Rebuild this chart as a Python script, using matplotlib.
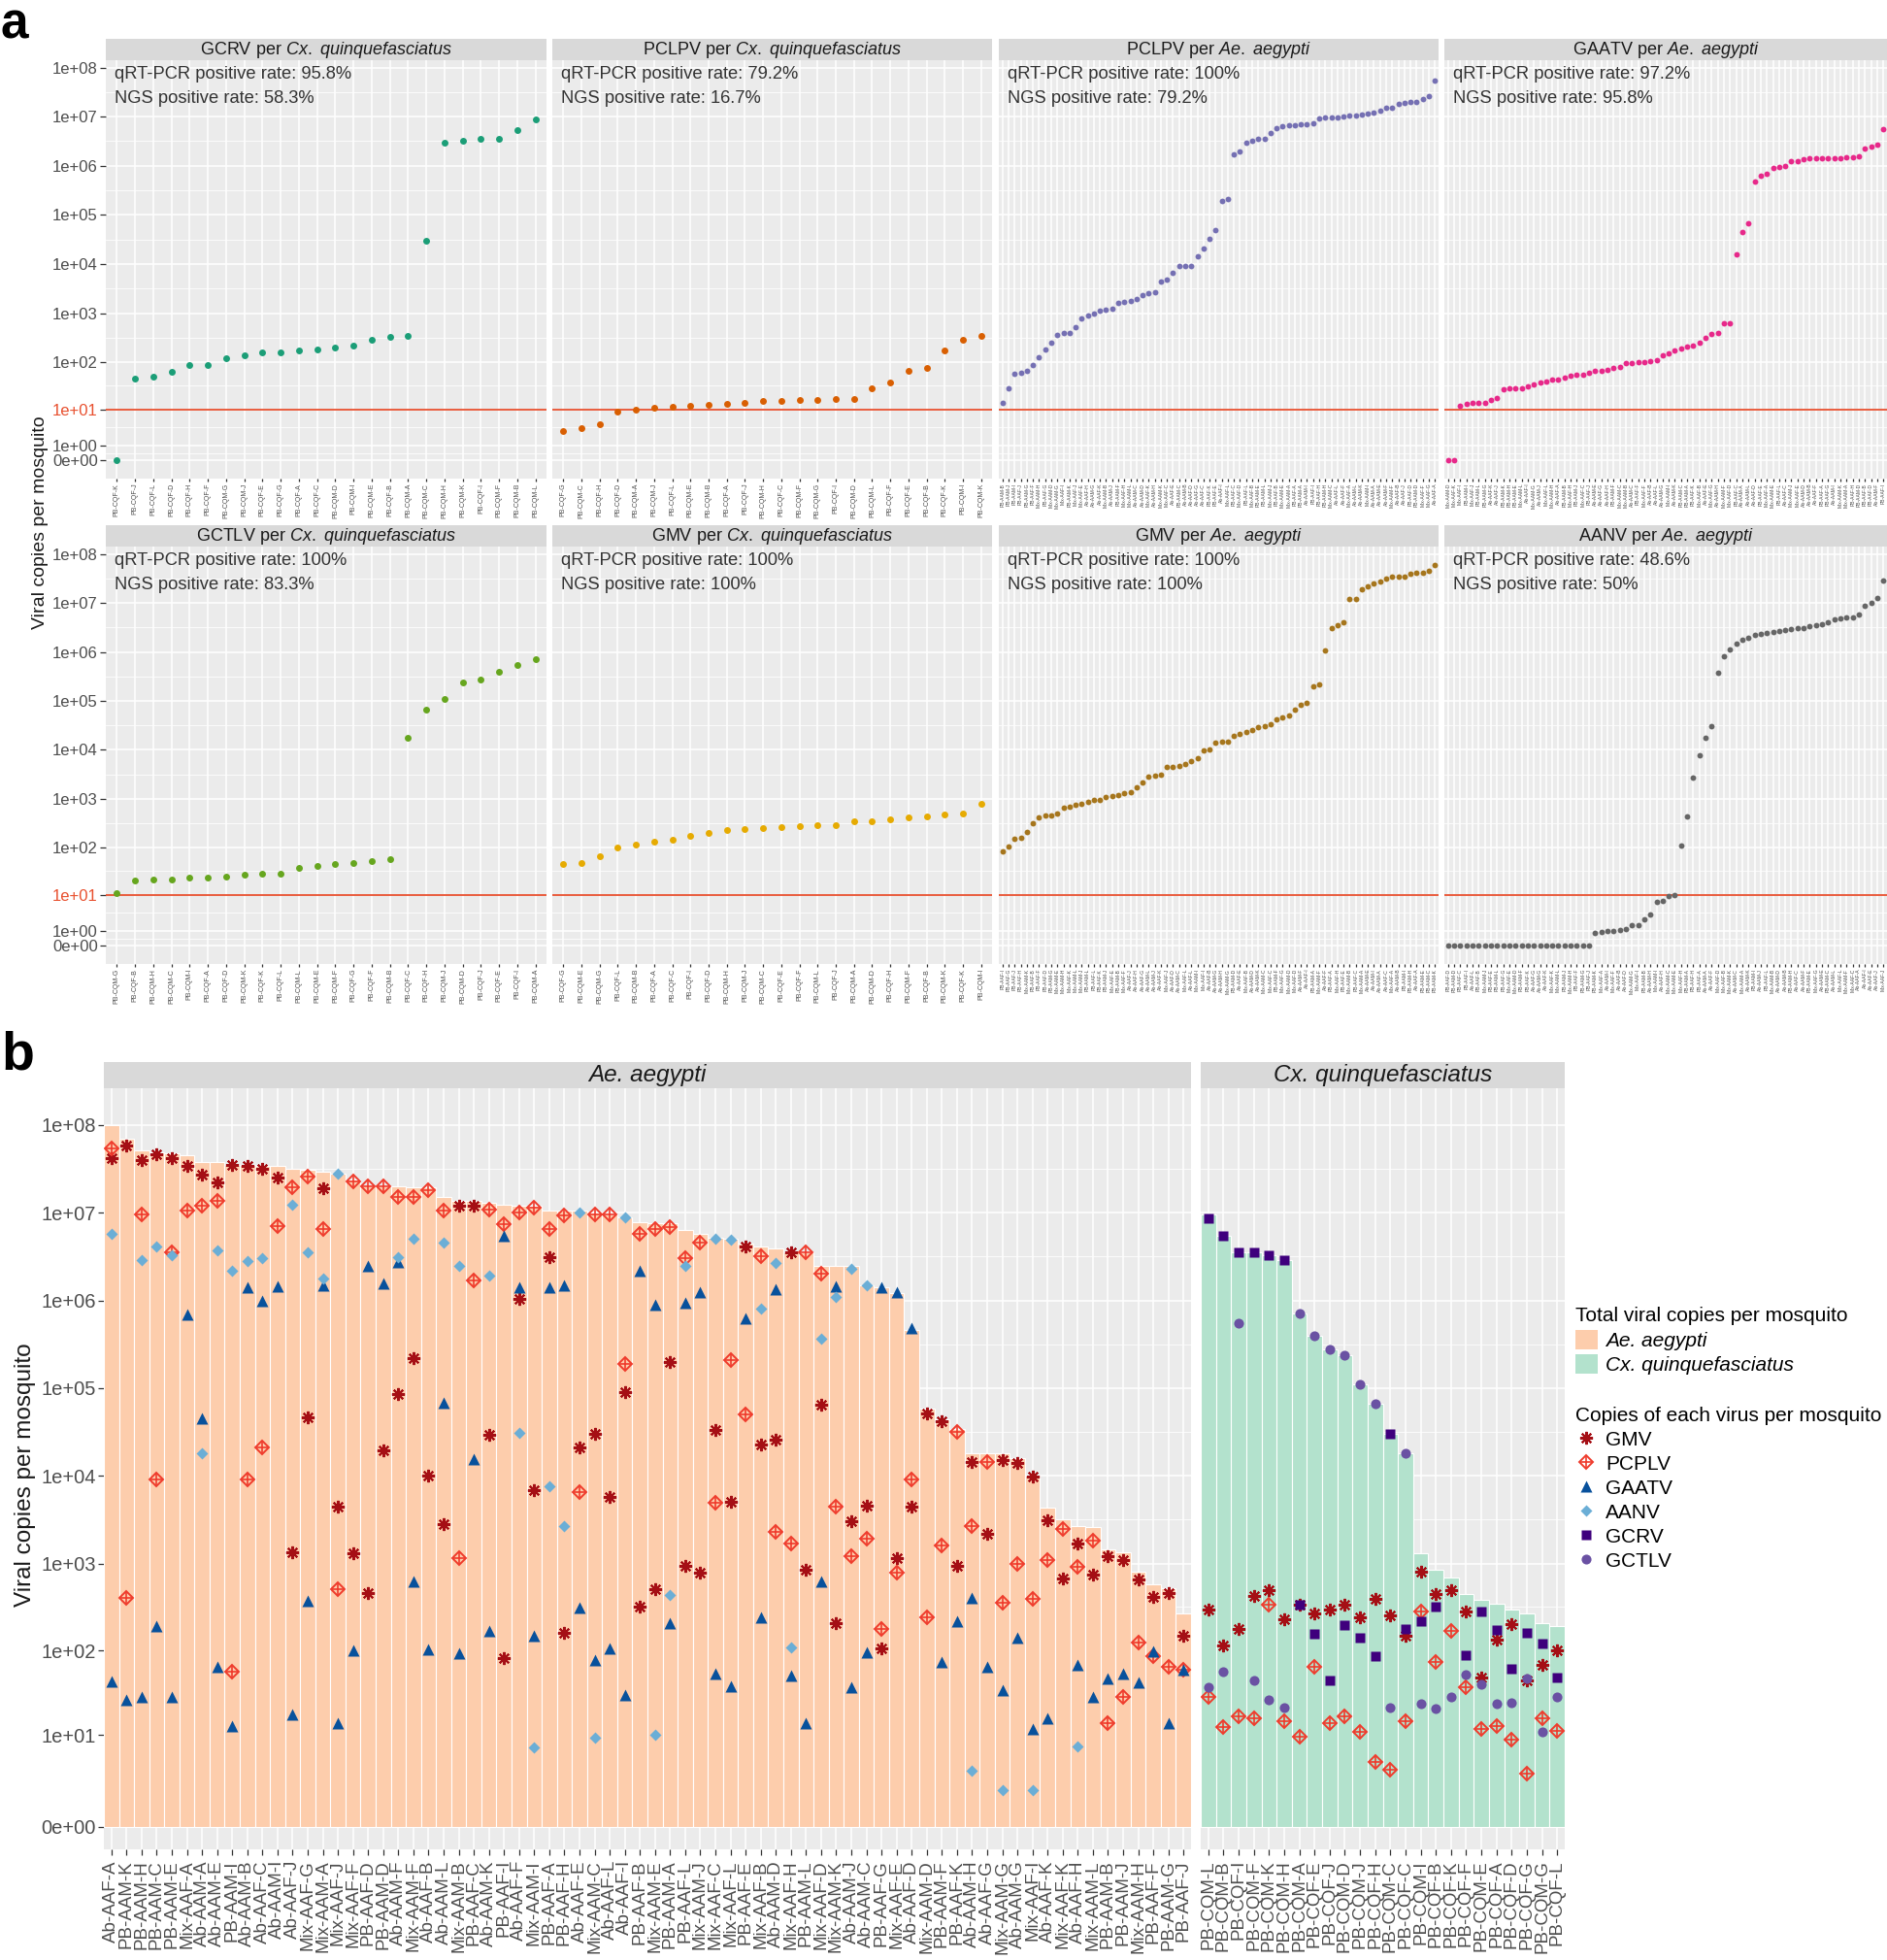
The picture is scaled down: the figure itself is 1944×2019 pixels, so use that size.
import numpy as np
import matplotlib
matplotlib.use("Agg")
import matplotlib.pyplot as plt
from matplotlib.lines import Line2D
from matplotlib.patches import Patch

plt.rcParams["font.family"] = ["Liberation Sans", "DejaVu Sans"]
plt.rcParams["mathtext.fontset"] = "custom"
plt.rcParams["mathtext.rm"] = "Liberation Sans"
plt.rcParams["mathtext.it"] = "Liberation Sans:italic"

nan = np.nan

# ---------------- data (panel b order, copies per mosquito) ----------------
ae_samples = [
    "Ab-AAF-A", "PB-AAM-K", "PB-AAM-H", "PB-AAM-C", "PB-AAM-E", "Mix-AAF-A", "Ab-AAM-A", "Ab-AAM-E",
    "PB-AAM-I", "Ab-AAM-B", "Ab-AAF-C", "Ab-AAM-I", "Ab-AAF-J", "Mix-AAF-G", "Mix-AAM-A", "Mix-AAF-J",
    "Mix-AAF-F", "PB-AAF-D", "PB-AAM-D", "Ab-AAM-F", "Mix-AAM-F", "Ab-AAF-B", "Ab-AAM-L", "Mix-AAM-B",
    "PB-AAF-C", "Ab-AAM-K", "PB-AAF-I", "Ab-AAF-F", "Mix-AAM-I", "PB-AAF-A", "PB-AAF-H", "Ab-AAF-E",
    "Mix-AAM-C", "Ab-AAF-L", "Ab-AAF-I", "PB-AAF-B", "Mix-AAM-E", "PB-AAM-A", "PB-AAF-L", "Mix-AAM-J",
    "Mix-AAF-C", "Mix-AAF-L", "PB-AAF-E", "Mix-AAF-B", "Ab-AAM-D", "Mix-AAF-H", "PB-AAM-L", "Mix-AAF-D",
    "Mix-AAM-K", "Ab-AAM-J", "Ab-AAM-C", "PB-AAF-G", "Mix-AAF-E", "Ab-AAF-D", "Mix-AAM-D", "PB-AAM-F",
    "PB-AAF-K", "Ab-AAM-H", "Ab-AAF-G", "Mix-AAM-G", "Ab-AAM-G", "Mix-AAF-I", "Ab-AAF-K", "Mix-AAF-K",
    "Ab-AAF-H", "Mix-AAM-L", "PB-AAM-B", "PB-AAM-J", "Mix-AAM-H", "PB-AAF-F", "PB-AAM-G", "PB-AAF-J",
]
cx_samples = [
    "PB-CQM-L", "PB-CQM-B", "PB-CQF-I", "PB-CQM-F", "PB-CQM-K", "PB-CQM-H", "PB-CQM-A", "PB-CQF-E",
    "PB-CQF-J", "PB-CQM-D", "PB-CQM-J", "PB-CQF-H", "PB-CQM-C", "PB-CQF-C", "PB-CQM-I", "PB-CQF-B",
    "PB-CQF-K", "PB-CQF-F", "PB-CQM-E", "PB-CQF-A", "PB-CQF-D", "PB-CQF-G", "PB-CQM-G", "PB-CQF-L",
]

ae_total = [
    1.0e8, 6.9e7, 5.1e7, 4.9e7, 4.8e7, 4.5e7, 3.8e7, 3.8e7, 3.5e7, 3.5e7, 3.4e7, 3.4e7,
    3.2e7, 3.1e7, 2.9e7, 2.8e7, 2.4e7, 2.0e7, 2.0e7, 2.0e7, 1.95e7, 1.95e7, 1.5e7, 1.35e7,
    1.35e7, 1.3e7, 1.25e7, 1.2e7, 1.2e7, 1.07e7, 1.05e7, 1.05e7, 1.0e7, 9.5e6, 8.9e6, 7.9e6,
    7.6e6, 7.6e6, 6.3e6, 5.8e6, 5.2e6, 5.0e6, 4.5e6, 4.1e6, 3.9e6, 3.5e6, 3.5e6, 2.5e6,
    2.5e6, 2.45e6, 1.5e6, 1.4e6, 1.2e6, 4.6e5, 5.8e4, 4.4e4, 3.4e4, 1.8e4, 1.8e4, 1.8e4,
    1.6e4, 1.0e4, 4.3e3, 3.2e3, 2.7e3, 2.6e3, 1.45e3, 1.35e3, 810, 575, 525, 270,
]
ae_gmv = [
    4.2e7, 5.9e7, 4.0e7, 4.6e7, 4.2e7, 3.4e7, 2.7e7, 2.2e7, 3.5e7, 3.4e7, 3.2e7, 2.5e7,
    1.35e3, 4.7e4, 1.9e7, 4.4e3, 1.3e3, 460, 1.95e4, 8.5e4, 2.2e5, 1.0e4, 2.8e3, 1.2e7,
    1.2e7, 2.9e4, 83, 1.05e6, 6.8e3, 3.1e6, 160, 2.1e4, 3.0e4, 5.8e3, 9.1e4, 320,
    510, 2.0e5, 950, 790, 3.3e4, 5.1e3, 4.1e6, 2.3e4, 2.6e4, 3.5e6, 850, 6.5e4,
    210, 3.0e3, 4.6e3, 107, 1.15e3, 4.4e3, 5.1e4, 4.2e4, 950, 1.45e4, 2.2e3, 1.5e4,
    1.4e4, 9.8e3, 3.1e3, 680, 1.7e3, 740, 1.2e3, 1.1e3, 650, 410, 460, 150,
]
ae_pcplv = [
    5.4e7, 400, 9.5e6, 9.1e3, 3.5e6, 1.07e7, 1.2e7, 1.35e7, 57, 9.1e3, 2.1e4, 7.1e6,
    1.95e7, 2.6e7, 6.6e6, 510, 2.3e7, 2.0e7, 2.0e7, 1.5e7, 1.5e7, 1.8e7, 1.07e7, 1.15e3,
    1.7e6, 1.1e7, 7.4e6, 1.0e7, 1.15e7, 6.6e6, 9.3e6, 6.6e3, 9.5e6, 9.5e6, 1.9e5, 5.8e6,
    6.5e6, 6.9e6, 3.0e6, 4.6e6, 4.9e3, 2.1e5, 5.0e4, 3.2e6, 2.3e3, 1.7e3, 3.5e6, 2.0e6,
    4.4e3, 1.2e3, 1.9e3, 180, 790, 9.1e3, 245, 1.6e3, 3.2e4, 2.7e3, 1.45e4, 355,
    980, 390, 1.1e3, 2.5e3, 910, 1.8e3, 14, 29, 125, 86, 65, 61,
]
ae_gaatv = [
    44, 27, 29, 190, 29, 6.9e5, 4.5e4, 65, 13, 1.4e6, 1.0e6, 1.45e6,
    18, 370, 1.5e6, 14, 100, 2.5e6, 1.55e6, 2.75e6, 620, 105, 6.8e4, 93,
    1.55e4, 170, 5.5e6, 1.4e6, 150, 1.4e6, 1.5e6, 310, 79, 107, 31, 2.2e6,
    8.9e5, 210, 9.5e5, 1.25e6, 55, 39, 6.3e5, 245, 1.35e6, 52, 14, 630,
    1.45e6, 38, 95, 1.4e6, 1.25e6, 4.8e5, nan, 74, 220, 400, 65, 35,
    140, 12, 16, nan, 68, 29, 48, 54, 43, 98, 14, 61,
]
ae_aanv = [
    5.8e6, nan, 2.9e6, 4.1e6, 3.3e6, nan, 1.8e4, 3.7e6, 2.2e6, 2.8e6, 3.0e6, nan,
    1.25e7, 3.5e6, 1.8e6, 2.8e7, nan, nan, nan, 3.1e6, 5.0e6, nan, 4.6e6, 2.5e6,
    nan, 1.9e6, nan, 3.1e4, 6.9, 7.6e3, 2.7e3, 1.0e7, 9.2, nan, 8.9e6, nan,
    10, 440, 2.45e6, nan, 5.0e6, 4.9e6, nan, 8.1e5, 2.7e6, 110, nan, 3.7e5,
    1.1e6, 2.3e6, 1.5e6, nan, nan, nan, nan, nan, nan, 3.3, nan, 1.6,
    nan, 1.6, nan, nan, 7.1, nan, nan, nan, nan, nan, nan, nan,
]
# AANV values near 1 copy that appear only in the panel a ranking
aanv_a_only_samples = ["PB-AAM-K", "Mix-AAF-A", "Ab-AAM-I", "Mix-AAF-F", "Ab-AAF-B", "Ab-AAF-D", "PB-AAM-B"]
aanv_a_only_values = [0.8, 0.9, 1.0, 1.0, 1.1, 1.2, 2.5]

cx_total = [
    9.5e6, 5.5e6, 3.5e6, 3.5e6, 3.3e6, 2.9e6, 7.1e5, 4.0e5, 2.75e5, 2.4e5, 1.1e5, 6.6e4,
    3.0e4, 1.8e4, 1.3e3, 850, 690, 450, 380, 350, 295, 265, 210, 190,
]
cx_gmv = [
    295, 114, 178, 425, 490, 229, 340, 270, 295, 340, 240, 390,
    257, 148, 810, 445, 500, 280, 49, 134, 200, 45, 68, 101,
]
cx_pcplv = [
    29, 12.5, 17, 16, 340, 15, 9.7, 65, 14, 17, 11, 4.4,
    3.5, 15, 280, 75, 170, 38, 12, 13, 8.8, 3.0, 16, 11.3,
]
cx_gcrv = [
    8.7e6, 5.4e6, 3.5e6, 3.5e6, 3.3e6, 2.9e6, 340, 155, 45, 195, 140, 86,
    3.0e4, 180, 220, 320, nan, 88, 280, 175, 62, 160, 122, 49,
]
cx_gctlv = [
    38, 58, 5.5e5, 45, 27, 22, 7.1e5, 4.0e5, 2.75e5, 2.4e5, 1.1e5, 6.6e4,
    22, 1.8e4, 24, 21, 29, 53, 41, 24, 25, 48, 11, 29,
]

# panel a annotations (qRT-PCR rate, NGS rate)
rates = {
    "GCRV_cx": ("95.8%", "58.3%"), "PCLPV_cx": ("79.2%", "16.7%"),
    "PCLPV_ae": ("100%", "79.2%"), "GAATV_ae": ("97.2%", "95.8%"),
    "GCTLV_cx": ("100%", "83.3%"), "GMV_cx": ("100%", "100%"),
    "GMV_ae": ("100%", "100%"), "AANV_ae": ("48.6%", "50%"),
}

# ---------------- style ----------------
W, H = 1944, 2019
BG = "#EBEBEB"
STRIP = "#D9D9D9"
TXT = "#1A1A1A"
TICKC = "#4D4D4D"
RED_LINE = "#E8502F"
AE_FILL, CX_FILL = "#FDCDAC", "#B3E2CD"
C_GMV, C_PCPLV, C_GAATV = "#A50F15", "#EF3B2C", "#08519C"
C_AANV, C_GCRV, C_GCTLV = "#6BAED6", "#3F007D", "#6A51A3"
ASTER = (8, 2, 0)

fig = plt.figure(figsize=(W / 100, H / 100), dpi=100)


def axes_px(x0, y0, x1, y1):
    return fig.add_axes([x0 / W, 1 - y1 / H, (x1 - x0) / W, (y1 - y0) / H])


def fwd(v):
    v = np.asarray(v, dtype=float)
    return np.log10(np.clip(v + 1.0, 1e-12, None))


def inv(p):
    return 10.0 ** np.asarray(p, dtype=float) - 1.0


def style_axes(ax, majors, labels, plim, show_y, n, xpad):
    ax.set_facecolor(BG)
    for s in ax.spines.values():
        s.set_visible(False)
    ax.set_yscale("function", functions=(fwd, inv))
    ax.set_ylim(inv(plim[0]), inv(plim[1]))
    majors = np.asarray(majors, dtype=float)
    pm = fwd(majors)
    ax.set_yticks(majors)
    ax.set_yticklabels(labels)
    ax.set_yticks(inv((pm[:-1] + pm[1:]) / 2), minor=True)
    ax.set_xlim(-xpad, n - 1 + xpad)
    ax.set_xticks(np.arange(n))
    ax.xaxis.set_minor_locator(matplotlib.ticker.NullLocator())
    ax.set_axisbelow(True)
    ax.grid(True, which="major", color="white", lw=1.1)
    ax.grid(True, which="minor", axis="y", color="white", lw=0.55)
    ax.tick_params(which="major", length=4, width=0.9, color="#333333", labelcolor=TICKC, pad=2)
    ax.tick_params(which="minor", length=0)
    if not show_y:
        ax.tick_params(axis="y", left=False, labelleft=False)


def strip_px(x0, y0, x1, y1, label, fs, italic=False):
    sa = axes_px(x0, y0, x1, y1)
    sa.set_facecolor(STRIP)
    sa.set_xticks([])
    sa.set_yticks([])
    for s in sa.spines.values():
        s.set_visible(False)
    sa.text(0.5, 0.5, label, ha="center", va="center", fontsize=fs, color=TXT,
            style="italic" if italic else "normal", transform=sa.transAxes)


# ---------------- panel a ----------------
ae_aanv_a = np.array(ae_aanv, dtype=float)
for s, val in zip(aanv_a_only_samples, aanv_a_only_values):
    ae_aanv_a[ae_samples.index(s)] = val

fac_x = [(109, 563), (569, 1022), (1029, 1482), (1488, 1944)]
rows_y = [(40, 62, 493), (541, 563, 993)]
facets = [
    ("GCRV", "Cx", cx_gcrv, cx_samples, "#1B9E77", "GCRV_cx"),
    ("PCLPV", "Cx", cx_pcplv, cx_samples, "#D95F02", "PCLPV_cx"),
    ("PCLPV", "Ae", ae_pcplv, ae_samples, "#7570B3", "PCLPV_ae"),
    ("GAATV", "Ae", ae_gaatv, ae_samples, "#E7298A", "GAATV_ae"),
    ("GCTLV", "Cx", cx_gctlv, cx_samples, "#66A61E", "GCTLV_cx"),
    ("GMV", "Cx", cx_gmv, cx_samples, "#E6AB02", "GMV_cx"),
    ("GMV", "Ae", ae_gmv, ae_samples, "#A6761D", "GMV_ae"),
    ("AANV", "Ae", ae_aanv_a, ae_samples, "#666666", "AANV_ae"),
]
sp_math = {"Cx": r"$\mathit{Cx.\ quinquefasciatus}$", "Ae": r"$\mathit{Ae.\ aegypti}$"}
a_majors = [0, 1, 1e1, 1e2, 1e3, 1e4, 1e5, 1e6, 1e7, 1e8]
a_labels = ["0e+00", "1e+00", "1e+01", "1e+02", "1e+03", "1e+04", "1e+05", "1e+06", "1e+07", "1e+08"]

for k, (virus, sp, vals, names, color, key) in enumerate(facets):
    r, c = divmod(k, 4)
    sy0, py0, py1 = rows_y[r]
    x0, x1 = fac_x[c]
    strip_px(x0, sy0, x1, py0, f"{virus} per " + sp_math[sp], 13)
    ax = axes_px(x0, py0, x1, py1)
    v = np.nan_to_num(np.asarray(vals, dtype=float), nan=0.0)
    order = np.argsort(v, kind="stable")
    n = len(v)
    style_axes(ax, a_majors, a_labels, (-0.37, 8.15), c == 0, n, 0.6)
    ax.set_xticklabels([names[i] for i in order], rotation=90,
                       fontsize=5 if n < 30 else 3.6, color=TICKC)
    ax.tick_params(axis="x", length=2.5, pad=1)
    if c == 0:
        ax.get_yticklabels()[2].set_color(RED_LINE)
        for t in ax.get_yticklabels():
            t.set_fontsize(12)
    ax.axhline(10, color=RED_LINE, lw=1.3, zorder=1.5)
    ax.plot(np.arange(n), v[order], "o", ms=5.0 if n < 30 else 4.2, color=color, mec="none", zorder=3)
    q, g = rates[key]
    ax.text(0.02, 0.985, f"qRT-PCR positive rate: {q}\nNGS positive rate: {g}",
            transform=ax.transAxes, ha="left", va="top", fontsize=13.2, color="#333333",
            linespacing=1.6)

fig.text(41 / W, 1 - 538 / H, "Viral copies per mosquito", rotation=90, ha="center", va="center",
         fontsize=14, color=TXT)
fig.text(1 / W, 1 - 39 / H, "a", fontsize=37, fontweight="bold", ha="left", va="baseline")

# ---------------- panel b ----------------
b_majors = [0, 1e1, 1e2, 1e3, 1e4, 1e5, 1e6, 1e7, 1e8]
b_labels = ["0e+00", "1e+01", "1e+02", "1e+03", "1e+04", "1e+05", "1e+06", "1e+07", "1e+08"]


def draw_points(ax, x, vals, kind):
    vals = np.asarray(vals, dtype=float)
    if kind == "GMV":
        ax.plot(x, vals, ls="none", marker=ASTER, ms=9.5, mew=1.5, color=C_GMV, zorder=4)
    elif kind == "PCPLV":
        ax.plot(x, vals, ls="none", marker="D", ms=7.3, mfc="none", mec=C_PCPLV, mew=1.4, zorder=4)
        ax.plot(x, vals, ls="none", marker="+", ms=10.3, mec=C_PCPLV, mew=1.2, zorder=4)
    elif kind == "GAATV":
        ax.plot(x, vals, ls="none", marker="^", ms=8.5, color=C_GAATV, mec="none", zorder=4)
    elif kind == "AANV":
        ax.plot(x, vals, ls="none", marker="D", ms=6.6, color=C_AANV, mec="none", zorder=4)
    elif kind == "GCRV":
        ax.plot(x, vals, ls="none", marker="s", ms=7.3, color=C_GCRV, mec="none", zorder=4)
    elif kind == "GCTLV":
        ax.plot(x, vals, ls="none", marker="o", ms=7.3, color=C_GCTLV, mec="none", zorder=4)


groups = [
    ("Ae. aegypti", (107, 1227), ae_samples, ae_total, AE_FILL,
     [("GMV", ae_gmv), ("PCPLV", ae_pcplv), ("GAATV", ae_gaatv), ("AANV", ae_aanv)]),
    ("Cx. quinquefasciatus", (1237, 1612), cx_samples, cx_total, CX_FILL,
     [("GMV", cx_gmv), ("PCPLV", cx_pcplv), ("GCRV", cx_gcrv), ("GCTLV", cx_gctlv)]),
]
for gi, (title, (x0, x1), names, total, fill, series) in enumerate(groups):
    strip_px(x0, 1094, x1, 1121, title, 17.5, italic=True)
    ax = axes_px(x0, 1121, x1, 1905)
    n = len(names)
    style_axes(ax, b_majors, b_labels, (-0.26, 8.42), gi == 0, n, 0.5)
    ax.set_xticklabels(names, rotation=90, fontsize=13.5, color=TICKC)
    ax.tick_params(axis="x", pad=4)
    ax.tick_params(axis="y", labelsize=14.5)
    x = np.arange(n)
    ax.bar(x, total, width=1.0, color=fill, edgecolor="white", linewidth=0.8, zorder=2)
    for kind, vals in series:
        draw_points(ax, x, vals, kind)

fig.text(26 / W, 1 - 1519 / H, "Viral copies per mosquito", rotation=90, ha="center", va="center",
         fontsize=17.5, color=TXT)
fig.text(1 / W, 1 - 1101 / H, "b", fontsize=40, fontweight="bold", ha="left", va="baseline")

# ---------------- legends ----------------
leg1 = fig.legend(
    handles=[Patch(fc=AE_FILL), Patch(fc=CX_FILL)],
    labels=["Ae. aegypti", "Cx. quinquefasciatus"],
    loc="upper left", bbox_to_anchor=(1623 / W, 1 - 1346 / H), frameon=False,
    title="Total viral copies per mosquito", fontsize=15, title_fontsize=15,
    alignment="left", handlelength=1.1, handleheight=1.1, handletextpad=0.4,
    labelspacing=0.22, borderaxespad=0, borderpad=0)
for t in leg1.get_texts():
    t.set_fontstyle("italic")

pc_handle = (Line2D([], [], ls="none", marker="D", ms=7.3, mfc="none", mec=C_PCPLV, mew=1.4),
             Line2D([], [], ls="none", marker="+", ms=10.3, mec=C_PCPLV, mew=1.2))
leg2 = fig.legend(
    handles=[Line2D([], [], ls="none", marker=ASTER, ms=9.5, mew=1.5, color=C_GMV),
             pc_handle,
             Line2D([], [], ls="none", marker="^", ms=8.5, color=C_GAATV, mec="none"),
             Line2D([], [], ls="none", marker="D", ms=6.6, color=C_AANV, mec="none"),
             Line2D([], [], ls="none", marker="s", ms=7.3, color=C_GCRV, mec="none"),
             Line2D([], [], ls="none", marker="o", ms=7.3, color=C_GCTLV, mec="none")],
    labels=["GMV", "PCPLV", "GAATV", "AANV", "GCRV", "GCTLV"],
    loc="upper left", bbox_to_anchor=(1623 / W, 1 - 1449 / H), frameon=False,
    title="Copies of each virus per mosquito", fontsize=15, title_fontsize=15,
    alignment="left", handlelength=1.1, handleheight=1.0, handletextpad=0.4,
    labelspacing=0.22, borderaxespad=0, borderpad=0)

fig.savefig("out.png", dpi=100, facecolor="white")
